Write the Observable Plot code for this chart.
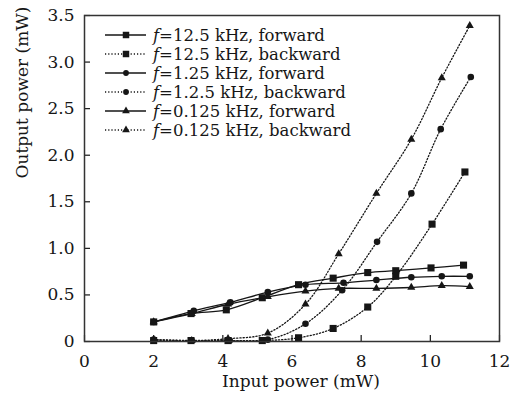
<!DOCTYPE html>
<html><head><meta charset="utf-8">
<script src="https://cdn.jsdelivr.net/npm/d3@7"></script>
<script src="https://cdn.jsdelivr.net/npm/@observablehq/plot@0.6"></script>
<style>
body{margin:0;background:#fff}
#wrap{position:relative;width:515px;height:398px}
#wrap svg{display:block}
</style>
</head><body><div id="wrap"></div>
<script>
// ---- data ----
const xTicks = [0, 2, 4, 6, 8, 10, 12];
const yTicks = [0, 0.5, 1, 1.5, 2, 2.5, 3, 3.5];
const yTickLabels = ["0", "0.5", "1.0", "1.5", "2.0", "2.5", "3.0", "3.5"];
const xLabel = "Input power (mW)";
const yLabel = "Output power (mW)";

const x12_5Fwd = [2.0, 3.08, 4.1, 5.14, 6.19, 7.19, 8.19, 9.0, 10.02, 10.96];
const y12_5Fwd = [0.21, 0.30, 0.34, 0.47, 0.61, 0.68, 0.74, 0.76, 0.79, 0.82];
const x12_5Bwd = [2.0, 3.08, 4.15, 5.14, 6.19, 7.19, 8.19, 9.0, 10.05, 11.0];
const y12_5Bwd = [0.01, 0.01, 0.01, 0.01, 0.04, 0.14, 0.37, 0.70, 1.26, 1.82];
const x1_25Fwd = [2.0, 3.16, 4.22, 5.3, 6.39, 7.49, 8.44, 9.45, 10.33, 11.14];
const y1_25Fwd = [0.21, 0.33, 0.42, 0.53, 0.61, 0.63, 0.66, 0.69, 0.70, 0.70];
const x1_25Bwd = [2.0, 3.1, 4.2, 5.3, 6.39, 7.45, 8.46, 9.45, 10.3, 11.17];
const y1_25Bwd = [0.02, 0.01, 0.01, 0.02, 0.19, 0.55, 1.07, 1.59, 2.28, 2.84];
const x0_125Fwd = [2.0, 3.1, 4.15, 5.3, 6.39, 7.35, 8.44, 9.45, 10.33, 11.14];
const y0_125Fwd = [0.21, 0.30, 0.40, 0.48, 0.54, 0.57, 0.57, 0.58, 0.60, 0.59];
const x0_125Bwd = [2.0, 3.1, 4.15, 5.3, 6.39, 7.35, 8.44, 9.45, 10.33, 11.14];
const y0_125Bwd = [0.02, 0.01, 0.03, 0.09, 0.40, 0.94, 1.59, 2.17, 2.83, 3.39];

const seriesFreq = ["12.5", "12.5", "1.25", "1.2.5", "0.125", "0.125"];
const seriesDir = ["forward", "backward", "forward", "backward", "forward", "backward"];
const seriesSymbol = ["square", "square", "circle", "circle", "triangle", "triangle"];
const seriesX = [x12_5Fwd, x12_5Bwd, x1_25Fwd, x1_25Bwd, x0_125Fwd, x0_125Bwd];
const seriesY = [y12_5Fwd, y12_5Bwd, y1_25Fwd, y1_25Bwd, y0_125Fwd, y0_125Bwd];

// ---- layout ----
const W = 515, H = 398;
const mL = 84, mR = 16, mT = 15, mB = 57;
const innerW = W - mL - mR, innerH = H - mT - mB;
const ink = "#161616";
const symR = {square: 4, circle: 3.3, triangle: 3};

const marks = [];
seriesX.forEach((xs, i) => {
  const data = xs.map((x, j) => ({x, y: seriesY[i][j]}));
  const dotted = seriesDir[i] === "backward";
  marks.push(Plot.line(data, {
    x: "x", y: "y", curve: "catmull-rom", stroke: ink,
    strokeWidth: dotted ? 1.3 : 1.3,
    strokeDasharray: dotted ? "1.2 2" : null
  }));
  marks.push(Plot.dot(data, {
    x: "x", y: "y", symbol: () => seriesSymbol[i], r: symR[seriesSymbol[i]],
    fill: ink, stroke: "none"
  }));
});

const chart = Plot.plot({
  width: W, height: H,
  marginLeft: mL, marginRight: mR, marginTop: mT, marginBottom: mB,
  style: {fontFamily: "DejaVu Serif", fontSize: "17px", background: "#fff", color: ink},
  symbol: {type: "identity"},
  x: {domain: [0, 12]},
  y: {domain: [0, 3.5]},
  marks: [
    Plot.axisX(xTicks, {tickSize: 0, tickPadding: 13, fontSize: 17, label: null, fill: ink}),
    Plot.axisY(yTicks, {tickSize: 0, tickPadding: 10, fontSize: 17, label: null, fill: ink,
      tickFormat: (d) => yTickLabels[yTicks.indexOf(d)]}),
    Plot.tickX(xTicks, {x: (d) => d, insetTop: innerH - 6, stroke: ink, strokeWidth: 1.2}),
    Plot.tickY(yTicks, {y: (d) => d, insetRight: innerW - 6, stroke: ink, strokeWidth: 1.2}),
    ...marks,
    Plot.frame({stroke: "#333", strokeWidth: 1.5}),
    Plot.text([xLabel], {text: (d) => d, frameAnchor: "bottom", dy: 45, dx: 9, fontSize: 17, fill: ink}),
    Plot.text([yLabel], {text: (d) => d, frameAnchor: "left", dx: -62, rotate: -90, fontSize: 17, fill: ink})
  ]
});
const wrap = document.getElementById("wrap");
wrap.appendChild(chart);

// ---- legend (inside frame, top-left) ----
const leg = d3.select(wrap).append("svg")
  .attr("width", W).attr("height", H)
  .style("position", "absolute").style("left", 0).style("top", 0)
  .style("pointer-events", "none")
  .style("font-family", "DejaVu Serif").style("font-size", "16.5px");
const symType = {square: d3.symbolSquare, circle: d3.symbolCircle, triangle: d3.symbolTriangle};
const symSize = {square: 42, circle: 26, triangle: 26};
seriesFreq.forEach((f, i) => {
  const y = 35 + i * 19;
  const dotted = seriesDir[i] === "backward";
  const g = leg.append("g");
  g.append("line").attr("x1", 105).attr("x2", 146).attr("y1", y).attr("y2", y)
    .attr("stroke", ink).attr("stroke-width", 1.3)
    .attr("stroke-dasharray", dotted ? "1.2 2" : null);
  g.append("path").attr("d", d3.symbol(symType[seriesSymbol[i]], symSize[seriesSymbol[i]])())
    .attr("transform", `translate(126,${y})`).attr("fill", ink);
  const t = g.append("text").attr("x", 153).attr("y", y).attr("dy", "0.35em").attr("fill", ink);
  t.append("tspan").attr("font-style", "italic").text("f");
  t.append("tspan").text(`=${f} kHz, ${seriesDir[i]}`);
});
</script>
</body></html>
